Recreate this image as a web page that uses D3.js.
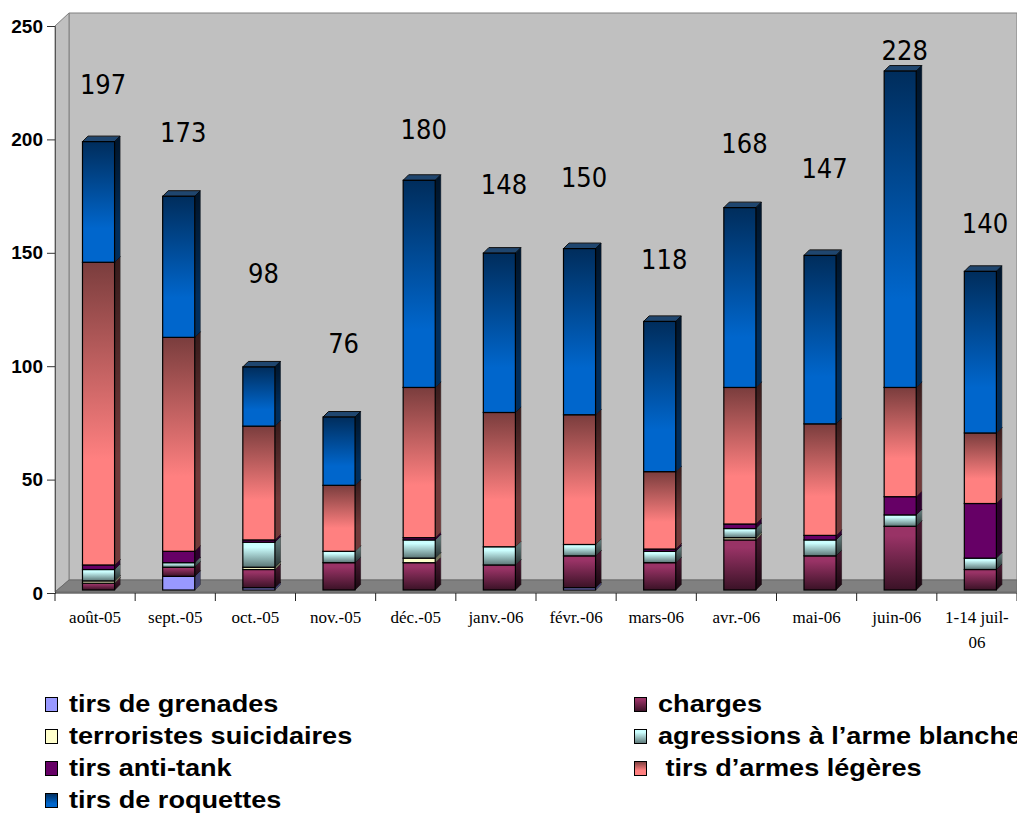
<!DOCTYPE html>
<html>
<head>
<meta charset="utf-8">
<script src="https://cdn.jsdelivr.net/npm/d3@7"></script>
<style>
  body { margin: 0; background: #fff; }
</style>
</head>
<body>
<div id="chart"></div>
<script>
const months = ["août-05", "sept.-05", "oct.-05", "nov.-05", "déc.-05", "janv.-06",
  "févr.-06", "mars-06", "avr.-06", "mai-06", "juin-06", "1-14 juil-06"];

const grenades    = [0, 6, 1, 0, 0, 0, 1, 0, 0, 0, 0, 0];
const charges     = [3, 4, 8, 12, 12, 11, 14, 12, 22, 15, 28, 9];
const suicidaires = [1, 0, 1, 0, 2, 0, 0, 0, 1, 0, 0, 0];
const armeBlanche = [5, 2, 11, 5, 8, 8, 5, 5, 4, 7, 5, 5];
const antiTank    = [2, 5, 1, 0, 1, 0, 0, 1, 2, 2, 8, 24];
const armesLegeres = [133, 94, 50, 29, 66, 59, 57, 34, 60, 49, 48, 31];
const roquettes   = [53, 62, 26, 30, 91, 70, 73, 66, 79, 74, 139, 71];

// level (in chart units) where each total was typed above its bar
const totalLabelLevel = [218, 197, 135, 104, 198, 174, 177, 141, 192, 181, 233, 157];

const yTicks = [0, 50, 100, 150, 200, 250];

const series = [
  { key: "grenades", name: "tirs de grenades", values: grenades },
  { key: "charges", name: "charges", values: charges },
  { key: "suicidaires", name: "terroristes suicidaires", values: suicidaires },
  { key: "blanche", name: "agressions à l’arme blanche", values: armeBlanche },
  { key: "antitank", name: "tirs anti-tank", values: antiTank },
  { key: "legeres", name: " tirs d’armes légères", values: armesLegeres },
  { key: "roquettes", name: "tirs de roquettes", values: roquettes }
];

// fills: [top stop, mid stop offset, bottom stop]
const fills = {
  grenades:    ["#9999ff", 1, "#9999ff"],
  charges:     ["#993366", 0.15, "#3a1226"],
  suicidaires: ["#ffffcc", 1, "#ffffcc"],
  blanche:     ["#ccffff", 0.2, "#5a7474"],
  antitank:    ["#660066", 1, "#660066"],
  legeres:     ["#7a3d3d", 0.65, "#ff8080"],
  roquettes:   ["#002d5c", 0.72, "#0066cc"]
};

const W = 1017, H = 816;
const depth = 5.5;

const table = months.map((m, i) => {
  const row = { month: m };
  series.forEach(s => row[s.key] = s.values[i]);
  return row;
});
const stacked = d3.stack().keys(series.map(s => s.key))(table);

const x = d3.scaleBand().domain(months).range([55, 1017]);
const yBar = d3.scaleLinear().domain([0, 250]).range([590, 21]);
const yAxis = d3.scaleLinear().domain([0, 250]).range([593, 26]);

const svg = d3.select("#chart").append("svg")
  .attr("width", W).attr("height", H)
  .style("font-family", "'Liberation Sans', Arial, sans-serif");

const defs = svg.append("defs");
Object.entries(fills).forEach(([k, f]) => {
  const g = defs.append("linearGradient").attr("id", "g-" + k)
    .attr("x1", 0).attr("y1", 0).attr("x2", 0).attr("y2", 1);
  if (f[1] >= 1) {
    g.append("stop").attr("offset", 0).attr("stop-color", f[0]);
    g.append("stop").attr("offset", 1).attr("stop-color", f[2]);
  } else if (k === "legeres" || k === "roquettes") {
    g.append("stop").attr("offset", 0).attr("stop-color", f[0]);
    g.append("stop").attr("offset", f[1]).attr("stop-color", f[2]);
    g.append("stop").attr("offset", 1).attr("stop-color", f[2]);
  } else {
    g.append("stop").attr("offset", 0).attr("stop-color", f[0]);
    g.append("stop").attr("offset", f[1]).attr("stop-color", f[0]);
    g.append("stop").attr("offset", 1).attr("stop-color", f[2]);
  }
});

// walls and floor
const x0 = x.range()[0], x1 = x.range()[1];
const wallD = 14;
svg.append("polygon")
  .attr("points", [[x0 + wallD, yAxis(250) - 13], [x1, yAxis(250) - 13], [x1, yAxis(0) - 13], [x0 + wallD, yAxis(0) - 13]].join(" "))
  .attr("fill", "#c0c0c0").attr("stroke", "#808080");
svg.append("polygon")
  .attr("points", [[x0, yAxis(250)], [x0 + wallD, yAxis(250) - 13], [x0 + wallD, yAxis(0) - 13], [x0, yAxis(0) - 1]].join(" "))
  .attr("fill", "#c0c0c0").attr("stroke", "#808080");
svg.append("polygon")
  .attr("points", [[x0, yAxis(0) - 1], [x0 + wallD, yAxis(0) - 13], [x1, yAxis(0) - 13], [x1, yAxis(0) - 1]].join(" "))
  .attr("fill", "#808080").attr("stroke", "#6a6a6a");

// bars
const bw = x.bandwidth();
const barOff = bw * 0.343, barW = bw * 0.4;

const layers = svg.append("g").selectAll("g")
  .data(stacked)
  .enter().append("g");

const segs = layers.selectAll("g")
  .data(d => d.map(p => ({ key: d.key, p: p, month: p.data.month })).filter(d => d.p[1] > d.p[0]))
  .enter().append("g");

segs.each(function (d) {
  const g = d3.select(this);
  const bx = x(d.month) + barOff;
  const yt = yBar(d.p[1]), yb = yBar(d.p[0]);
  const fill = "url(#g-" + d.key + ")";
  // top face
  g.append("polygon")
    .attr("points", [[bx, yt], [bx + depth, yt - depth], [bx + barW + depth, yt - depth], [bx + barW, yt]].join(" "))
    .attr("fill", fills[d.key][0]).attr("stroke", "#000").attr("stroke-width", 1)
    .attr("stroke-linejoin", "round");
  g.append("polygon")
    .attr("points", [[bx, yt], [bx + depth, yt - depth], [bx + barW + depth, yt - depth], [bx + barW, yt]].join(" "))
    .attr("fill", "#fff").attr("opacity", 0.12);
  // side face
  const side = [[bx + barW, yt], [bx + barW + depth, yt - depth], [bx + barW + depth, yb - depth], [bx + barW, yb]].join(" ");
  g.append("polygon").attr("points", side).attr("fill", fill);
  g.append("polygon").attr("points", side).attr("fill", "#000").attr("opacity", 0.55)
    .attr("stroke", "#000").attr("stroke-width", 1);
  // front face
  g.append("rect")
    .attr("x", bx).attr("y", yt).attr("width", barW).attr("height", yb - yt)
    .attr("fill", fill).attr("stroke", "#000").attr("stroke-width", 1.2);
});

// axes
const yA = svg.append("g").attr("transform", "translate(" + x0 + ",0)")
  .call(d3.axisLeft(yAxis).tickValues(yTicks).tickSize(8).tickPadding(4));
yA.select(".domain").attr("stroke", "#555");
yA.selectAll(".tick line").attr("stroke", "#333");
yA.selectAll(".tick text")
  .style("font-family", "'Liberation Sans', Arial, sans-serif")
  .style("font-weight", "bold").style("font-size", "19px").attr("fill", "#000");

const xA = svg.append("g").attr("transform", "translate(0," + yAxis(0) + ")")
  .call(d3.axisBottom(x).tickSize(0).tickPadding(18));
xA.select(".domain").attr("stroke", "#222").attr("d", "M" + x0 + ",0H" + x1);
xA.selectAll(".tick text")
  .style("font-family", "'Liberation Serif', 'Times New Roman', serif")
  .style("font-size", "17px").attr("fill", "#000")
  .each(function (d) {
    const t = d3.select(this);
    if (d.length > 10) {
      const cut = d.lastIndexOf("-") + 1;
      t.text(null);
      t.append("tspan").attr("x", 0).text(d.slice(0, cut));
      t.append("tspan").attr("x", 0).attr("dy", "1.45em").text(d.slice(cut));
    }
  });
svg.append("g").selectAll("line")
  .data(months.concat(["end"]))
  .enter().append("line")
  .attr("x1", (d, i) => i < months.length ? x(d) : x1)
  .attr("x2", (d, i) => i < months.length ? x(d) : x1)
  .attr("y1", yAxis(0)).attr("y2", yAxis(0) + 8)
  .attr("stroke", "#222");

// totals typed above the bars
svg.append("g").selectAll("text")
  .data(table)
  .enter().append("text")
  .attr("x", d => x(d.month) + bw / 2 + 8)
  .attr("y", (d, i) => yBar(totalLabelLevel[i]))
  .attr("text-anchor", "middle")
  .style("font-family", "'DejaVu Sans Condensed', 'DejaVu Sans', sans-serif")
  .style("font-size", "27px")
  .attr("fill", "#000")
  .text(d => d3.sum(series, s => d[s.key]));

// legend
const legCols = [45, 634];
const legRows = [712, 744, 776, 808];
const leg = svg.append("g").selectAll("g")
  .data(series)
  .enter().append("g")
  .attr("transform", (d, i) => "translate(" + legCols[i % 2] + "," + legRows[Math.floor(i / 2)] + ")");
leg.append("rect")
  .attr("x", 0.5).attr("y", -14.5).attr("width", 12).attr("height", 14)
  .attr("fill", d => "url(#g-" + d.key + ")")
  .attr("stroke", "#000").attr("stroke-width", 1);
leg.append("text")
  .attr("transform", "translate(24,0) scale(1.13,1)")
  .style("font-weight", "bold").style("font-size", "24px")
  .style("white-space", "pre")
  .attr("fill", "#000")
  .text(d => d.name);
</script>
</body>
</html>
